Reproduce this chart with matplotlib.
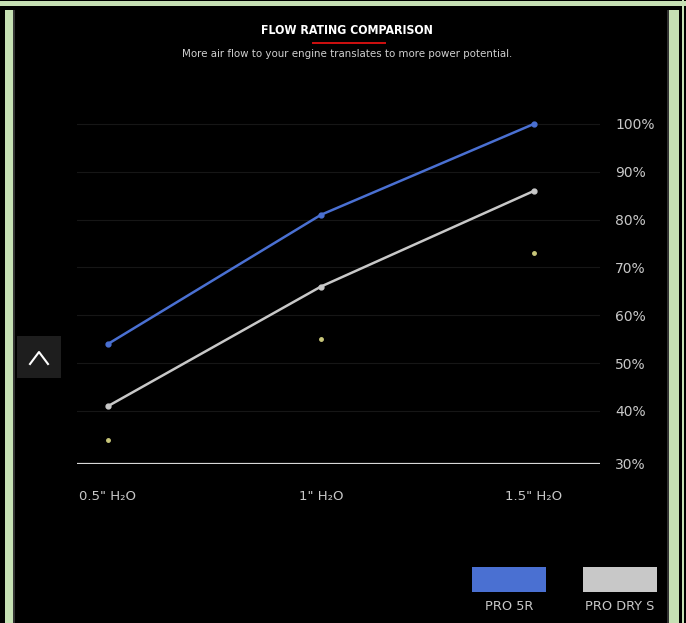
import matplotlib
matplotlib.use("Agg")
import matplotlib.pyplot as plt
from matplotlib.patches import Rectangle
import matplotlib.transforms as mtransforms

# ---- data ----
categories = ['0.5" H\u2082O', '1" H\u2082O', '1.5" H\u2082O']
pro_5r = [54, 81, 100]
pro_dry_s = [41, 66, 86]
third_series = [34, 55, 73]
y_ticks = [30, 40, 50, 60, 70, 80, 90, 100]
y_tick_labels = ["30%", "40%", "50%", "60%", "70%", "80%", "90%", "100%"]
series_names = ["PRO 5R", "PRO DRY S"]

W, H = 686, 623
fig = plt.figure(figsize=(W / 100, H / 100), dpi=100, facecolor="black")

def fx(px):
    return px / W

def fy(py):
    return 1 - py / H

# main axes
ax_l, ax_r, ax_t, ax_b = 77, 600, 100, 464
ax = fig.add_axes([fx(ax_l), fy(ax_b), fx(ax_r - ax_l), (ax_b - ax_t) / H])
ax.set_facecolor("black")
x = list(range(len(categories)))
blue = "#4a70d2"
gray = "#c8c8c8"
ax.plot(x, pro_5r, color=blue, lw=1.8, marker="o", ms=3.5, zorder=3)
ax.plot(x, pro_dry_s, color=gray, lw=1.8, marker="o", ms=3.5, zorder=3)
ax.plot(x, third_series, ls="none", marker="o", ms=2.5, color="#c9c77a", zorder=3)

ax.set_xlim(-0.1455, 2.3099)
ax.set_ylim(28.9, 105.0)
for v in y_ticks[1:]:
    ax.axhline(v, color="#161616", lw=0.8, zorder=1)
ax.axhline(28.9, color="#d8d8d8", lw=1.6, zorder=2)

ax.yaxis.tick_right()
ax.set_yticks(y_ticks)
ax.set_yticklabels(y_tick_labels)
ax.set_xticks(x)
ax.set_xticklabels(categories)
ax.tick_params(axis="y", length=0, pad=11, labelsize=10, labelcolor="#c8c8c8")
ax.tick_params(axis="x", length=0, pad=19, labelsize=9.5, labelcolor="#c8c8c8")
for s in ax.spines.values():
    s.set_visible(False)
# the bottom label sits on the baseline in the reference
lbl30 = ax.get_yticklabels()[0]
lbl30.set_transform(lbl30.get_transform() +
                    mtransforms.ScaledTranslation(0, -5 / 100, fig.dpi_scale_trans))

# overlay axes in pixel coordinates (background frame)
ov = fig.add_axes([0, 0, 1, 1], zorder=-1)
ov.set_xlim(0, W)
ov.set_ylim(H, 0)
ov.axis("off")

green = "#c6e0b4"
ov.add_patch(Rectangle((0, 1), W, 5, color=green, lw=0))
ov.add_patch(Rectangle((5, 10), 8, H - 10, color=green, lw=0))
ov.add_patch(Rectangle((13, 10), 2, H - 10, color="#333333", lw=0))
ov.add_patch(Rectangle((667, 10), 2, H - 10, color="#333333", lw=0))
ov.add_patch(Rectangle((669, 10), 10, H - 10, color=green, lw=0))
ov.add_patch(Rectangle((682, 0), 2, H, color=green, lw=0))

# overlay for titles / legend
top = fig.add_axes([0, 0, 1, 1], zorder=5)
top.set_xlim(0, W)
top.set_ylim(H, 0)
top.axis("off")
top.patch.set_alpha(0)

top.text(347, 30, "FLOW RATING COMPARISON", color="white", fontsize=8.8,
         fontweight="bold", fontstretch="condensed", ha="center", va="center")
top.plot([313, 385], [43, 43], color="#d01010", lw=1.4)
top.text(347, 54, "More air flow to your engine translates to more power potential.",
         color="#d0d0d0", fontsize=7.4, ha="center", va="center")

# up button
top.add_patch(Rectangle((17, 336), 44, 42, color="#1e1e1e", lw=0))
top.plot([30, 39, 48], [364, 352, 364], color="white", lw=1.5)

# legend
top.add_patch(Rectangle((472, 567), 74, 25, color=blue, lw=0))
top.add_patch(Rectangle((583, 567), 74, 25, color=gray, lw=0))
top.text(509, 606, series_names[0], color="#c8c8c8", fontsize=9.3, ha="center", va="center")
top.text(620, 606, series_names[1], color="#c8c8c8", fontsize=9.3, ha="center", va="center")

fig.savefig("out.png", dpi=100, facecolor="black")
